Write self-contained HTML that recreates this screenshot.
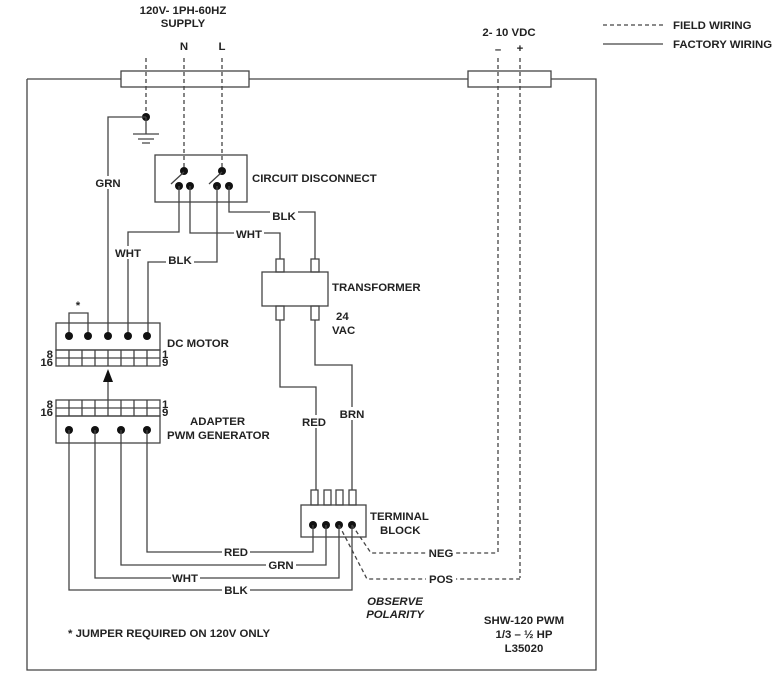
<!DOCTYPE html>
<html><head><style>
html,body{margin:0;padding:0;background:#fff}
svg{display:block}
text{font-family:"Liberation Sans",Arial,sans-serif;font-weight:bold;font-size:11.4px;fill:#222}
.l{stroke:#444;stroke-width:1.3;fill:none}
.d{stroke:#444;stroke-width:1.3;fill:none;stroke-dasharray:4,3}
.w{fill:#fff}
</style></head><body>
<svg width="778" height="677" viewBox="0 0 778 677">
<path class="l" d="M27 79H121M249 79H468M551 79H596V670H27V79"/>
<rect class="l" x="121" y="71" width="128" height="16" fill="#fff"/>
<rect class="l" x="468" y="71" width="83" height="16" fill="#fff"/>

<text x="183" y="14" text-anchor="middle">120V- 1PH-60HZ</text>
<text x="183" y="27" text-anchor="middle">SUPPLY</text>
<text x="184" y="50" text-anchor="middle">N</text>
<text x="222" y="50" text-anchor="middle">L</text>
<text x="509" y="36" text-anchor="middle">2- 10 VDC</text>
<text x="498" y="53" text-anchor="middle">–</text>
<text x="520" y="52" text-anchor="middle">+</text>

<path class="d" d="M603 25H663"/>
<path class="l" d="M603 44H663"/>
<text x="673" y="29">FIELD WIRING</text>
<text x="673" y="48">FACTORY WIRING</text>

<path class="d" d="M146 58V117M184 58V170M222 58V170"/>
<path class="d" d="M498 58V553M520 58V578"/>
<circle cx="146" cy="117" r="4" fill="#111"/>
<path class="l" d="M146 117V134M133 134H159M138 139H154M142 143H150"/>
<path class="l" d="M146 117H108V335"/>
<rect class="w" x="94" y="176" width="30" height="13"/>
<text x="108" y="187" text-anchor="middle">GRN</text>

<rect class="l" x="155" y="155" width="92" height="47"/>
<circle cx="184" cy="171" r="4" fill="#111"/>
<circle cx="222" cy="171" r="4" fill="#111"/>
<circle cx="179" cy="186" r="4" fill="#111"/>
<circle cx="190" cy="186" r="4" fill="#111"/>
<circle cx="217" cy="186" r="4" fill="#111"/>
<circle cx="229" cy="186" r="4" fill="#111"/>
<path class="l" d="M171 184L184 172M209 184L222 172"/>
<text x="252" y="182">CIRCUIT DISCONNECT</text>

<path class="l" d="M179 186V232H128V335"/>
<path class="l" d="M190 186V233H280V259"/>
<path class="l" d="M217 186V262H148V335"/>
<path class="l" d="M229 186V212H315V259"/>
<rect class="w" x="114" y="246" width="29" height="13"/>
<text x="128" y="257" text-anchor="middle">WHT</text>
<rect class="w" x="234" y="227" width="30" height="13"/>
<text x="249" y="238" text-anchor="middle">WHT</text>
<rect class="w" x="166" y="255" width="28" height="13"/>
<text x="180" y="264" text-anchor="middle">BLK</text>
<rect class="w" x="270" y="209" width="28" height="13"/>
<text x="284" y="220" text-anchor="middle">BLK</text>

<rect class="l" x="262" y="272" width="66" height="34"/>
<rect class="l" x="276" y="259" width="8" height="13"/>
<rect class="l" x="311" y="259" width="8" height="13"/>
<rect class="l" x="276" y="306" width="8" height="14"/>
<rect class="l" x="311" y="306" width="8" height="14"/>
<text x="332" y="291">TRANSFORMER</text>
<text x="336" y="320">24</text>
<text x="332" y="334">VAC</text>
<path class="l" d="M280 320V387H316V490"/>
<path class="l" d="M315 320V365H352V490"/>
<rect class="w" x="301" y="415" width="28" height="13"/>
<text x="314" y="426" text-anchor="middle">RED</text>
<rect class="w" x="338" y="407" width="29" height="13"/>
<text x="352" y="418" text-anchor="middle">BRN</text>

<rect class="l" x="301" y="505" width="65" height="32"/>
<rect class="l" x="311" y="490" width="7" height="15"/>
<rect class="l" x="324" y="490" width="7" height="15"/>
<rect class="l" x="336" y="490" width="7" height="15"/>
<rect class="l" x="349" y="490" width="7" height="15"/>
<circle cx="313" cy="525" r="4" fill="#111"/>
<circle cx="326" cy="525" r="4" fill="#111"/>
<circle cx="339" cy="525" r="4" fill="#111"/>
<circle cx="352" cy="525" r="4" fill="#111"/>
<text x="370" y="520">TERMINAL</text>
<text x="380" y="534">BLOCK</text>
<path class="d" d="M352 525L371 553H498M339 525L367 579H520"/>
<rect class="w" x="426" y="546" width="30" height="13"/>
<text x="441" y="557" text-anchor="middle">NEG</text>
<rect class="w" x="426" y="572" width="30" height="13"/>
<text x="441" y="583" text-anchor="middle">POS</text>
<text x="395" y="605" text-anchor="middle" font-style="italic">OBSERVE</text>
<text x="395" y="618" text-anchor="middle" font-style="italic">POLARITY</text>

<rect class="l" x="56" y="323" width="104" height="27"/>
<path class="l" d="M69 336V313H88V336"/>
<text x="78" y="309" text-anchor="middle" font-size="13">*</text>
<circle cx="69" cy="336" r="4" fill="#111"/>
<circle cx="88" cy="336" r="4" fill="#111"/>
<circle cx="108" cy="336" r="4" fill="#111"/>
<circle cx="128" cy="336" r="4" fill="#111"/>
<circle cx="147" cy="336" r="4" fill="#111"/>
<rect class="l" x="56" y="350" width="104" height="16"/>
<path class="l" d="M56 358H160M69 350V366M82 350V366M95 350V366M108 350V366M121 350V366M134 350V366M147 350V366"/>
<text x="53" y="358" text-anchor="end" font-size="8">8</text>
<text x="53" y="366" text-anchor="end" font-size="8">16</text>
<text x="162" y="358" font-size="8">1</text>
<text x="162" y="366" font-size="8">9</text>
<text x="167" y="347">DC MOTOR</text>
<path class="l" d="M108 400V378"/>
<path d="M103 382L108 369L113 382Z" fill="#111"/>

<rect class="l" x="56" y="400" width="104" height="16"/>
<path class="l" d="M56 408H160M69 400V416M82 400V416M95 400V416M108 400V416M121 400V416M134 400V416M147 400V416"/>
<text x="53" y="408" text-anchor="end" font-size="8">8</text>
<text x="53" y="416" text-anchor="end" font-size="8">16</text>
<text x="162" y="408" font-size="8">1</text>
<text x="162" y="416" font-size="8">9</text>
<rect class="l" x="56" y="416" width="104" height="27"/>
<circle cx="69" cy="430" r="4" fill="#111"/>
<circle cx="95" cy="430" r="4" fill="#111"/>
<circle cx="121" cy="430" r="4" fill="#111"/>
<circle cx="147" cy="430" r="4" fill="#111"/>
<text x="190" y="425">ADAPTER</text>
<text x="167" y="439">PWM GENERATOR</text>

<path class="l" d="M147 430V552H313V525"/>
<path class="l" d="M121 430V565H326V525"/>
<path class="l" d="M95 430V578H339V525"/>
<path class="l" d="M69 430V590H352V525"/>
<rect class="w" x="222" y="546" width="28" height="13"/>
<text x="236" y="556" text-anchor="middle">RED</text>
<rect class="w" x="266" y="559" width="30" height="13"/>
<text x="281" y="569" text-anchor="middle">GRN</text>
<rect class="w" x="171" y="572" width="29" height="13"/>
<text x="185" y="582" text-anchor="middle">WHT</text>
<rect class="w" x="222" y="584" width="28" height="13"/>
<text x="236" y="594" text-anchor="middle">BLK</text>

<text x="68" y="637">*  JUMPER REQUIRED ON 120V ONLY</text>
<text x="524" y="624" text-anchor="middle">SHW-120 PWM</text>
<text x="524" y="638" text-anchor="middle">1/3 – ½ HP</text>
<text x="524" y="652" text-anchor="middle">L35020</text>
</svg>
</body></html>
